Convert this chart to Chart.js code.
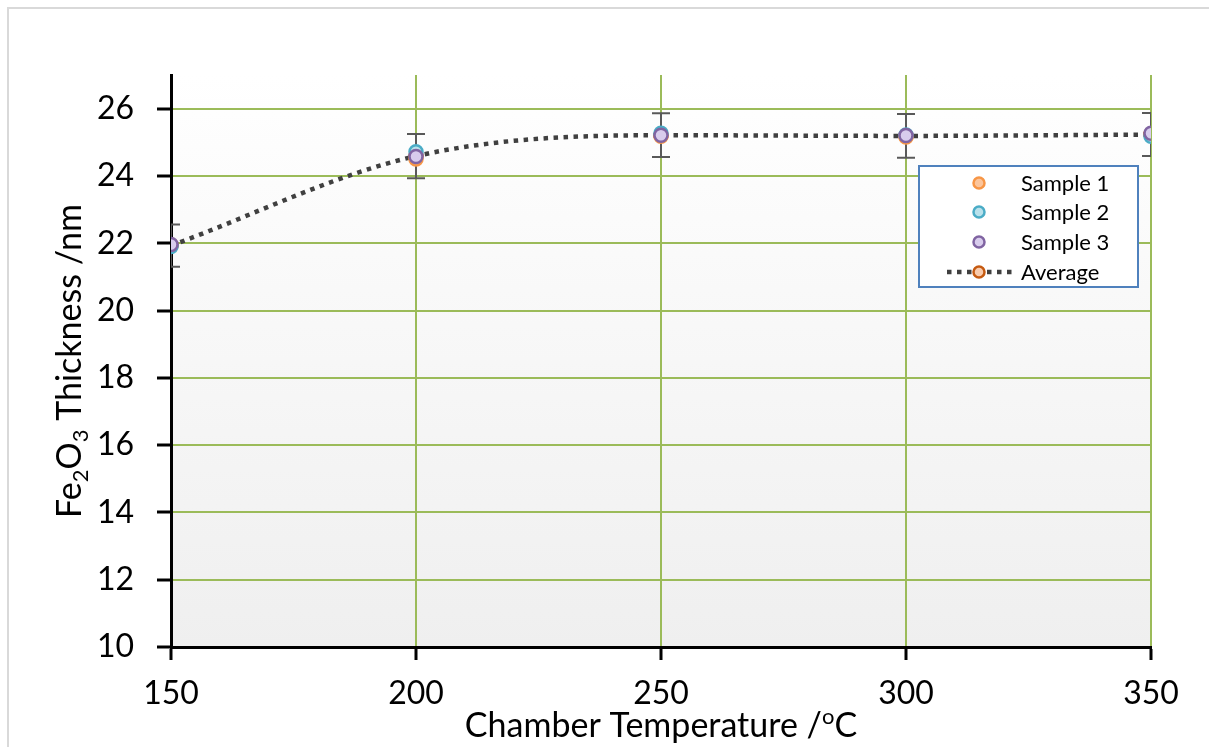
<!DOCTYPE html>
<html>
<head>
<meta charset="utf-8">
<script src="https://cdn.jsdelivr.net/npm/chart.js@4.4.1/dist/chart.umd.min.js"></script>
<style>
  html, body { margin: 0; padding: 0; background: #ffffff; }
  #wrap { position: relative; width: 1209px; height: 747px; }
</style>
</head>
<body>
<div id="wrap"><canvas id="chart"></canvas></div>
<script>
// Chamber temperature (°C) for each deposition run
const temperatures = [150, 200, 250, 300, 350];

// Measured Fe2O3 film thickness (nm) for each sample
const sample1 = [21.95, 24.50, 25.18, 25.16, 25.24];
const sample2 = [21.90, 24.72, 25.27, 25.22, 25.18];
const sample3 = [21.96, 24.58, 25.21, 25.20, 25.27];
const average = [21.93, 24.59, 25.21, 25.19, 25.23];
const averageError = [0.63, 0.66, 0.65, 0.65, 0.64];

// Axis tick labels
const xTickValues = [150, 200, 250, 300, 350];
const yTickValues = [10, 12, 14, 16, 18, 20, 22, 24, 26];

const FONT = 'Lato, "Open Sans", sans-serif';

const seriesStyles = [
  { label: 'Sample 1', data: sample1, border: '#f79646', fill: '#fbc59c' },
  { label: 'Sample 2', data: sample2, border: '#4bacc6', fill: '#b9e1eb' },
  { label: 'Sample 3', data: sample3, border: '#8064a2', fill: '#d8ccec' }
];

const toPoints = arr => arr.map((v, i) => ({ x: temperatures[i], y: v }));

const datasets = seriesStyles.map((s, i) => ({
  label: s.label,
  data: toPoints(s.data),
  showLine: false,
  pointRadius: 6.5,
  pointBorderWidth: 2.5,
  pointBorderColor: s.border,
  pointBackgroundColor: s.fill,
  order: 2 - i
}));
datasets.push({
  label: 'Average',
  data: toPoints(average),
  showLine: true,
  borderColor: '#404040',
  borderWidth: 4.5,
  borderDash: [4.5, 5.5],
  cubicInterpolationMode: 'monotone',
  pointRadius: 6.5,
  pointBorderWidth: 2.5,
  pointBorderColor: '#c55a11',
  pointBackgroundColor: '#f8cbad',
  order: 3
});

// Plot-area gradient and outer frame
const backgroundPlugin = {
  id: 'plotBackground',
  beforeDraw(chart) {
    const { ctx, chartArea: a } = chart;
    ctx.save();
    ctx.fillStyle = '#ffffff';
    ctx.fillRect(0, 0, chart.width, chart.height);
    const g = ctx.createLinearGradient(0, a.top, 0, a.bottom);
    g.addColorStop(0, '#ffffff');
    g.addColorStop(1, '#efefef');
    ctx.fillStyle = g;
    ctx.fillRect(a.left, a.top, a.right - a.left, a.bottom - a.top);
    ctx.strokeStyle = '#d9d9d9';
    ctx.lineWidth = 2;
    ctx.beginPath();
    ctx.moveTo(8, chart.height);
    ctx.lineTo(8, 8);
    ctx.lineTo(chart.width, 8);
    ctx.stroke();
    ctx.restore();
  }
};

// Vertical error bars on the average series
const errorBarPlugin = {
  id: 'errorBars',
  beforeDatasetsDraw(chart) {
    const { ctx, chartArea: a, scales: { x, y } } = chart;
    ctx.save();
    ctx.beginPath();
    ctx.rect(a.left, a.top, a.right - a.left, a.bottom - a.top);
    ctx.clip();
    ctx.strokeStyle = '#595959';
    ctx.lineWidth = 2;
    const half = 9;
    average.forEach((v, i) => {
      const px = x.getPixelForValue(temperatures[i]);
      const top = y.getPixelForValue(v + averageError[i]);
      const bot = y.getPixelForValue(v - averageError[i]);
      ctx.beginPath();
      ctx.moveTo(px, top); ctx.lineTo(px, bot);
      ctx.moveTo(px - half, top); ctx.lineTo(px + half, top);
      ctx.moveTo(px - half, bot); ctx.lineTo(px + half, bot);
      ctx.stroke();
    });
    ctx.restore();
  }
};

function drawRuns(ctx, runs, size, cx, baseline) {
  const subSize = Math.round(size * 0.65);
  const widths = runs.map(r => {
    ctx.font = `${r.sub || r.sup ? subSize : size}px ${FONT}`;
    return ctx.measureText(r.t).width;
  });
  const total = widths.reduce((s, w) => s + w, 0);
  let xPos = cx - total / 2;
  ctx.textAlign = 'left';
  ctx.textBaseline = 'alphabetic';
  runs.forEach((r, i) => {
    ctx.font = `${r.sub || r.sup ? subSize : size}px ${FONT}`;
    let dy = 0;
    if (r.sub) dy = size * 0.22;
    if (r.sup) dy = -size * 0.38;
    ctx.fillText(r.t, xPos, baseline + dy);
    xPos += widths[i];
  });
}

// Axis titles with sub/superscripts
const titlePlugin = {
  id: 'axisTitles',
  afterDraw(chart) {
    const { ctx, chartArea: a } = chart;
    ctx.save();
    ctx.fillStyle = '#000000';
    drawRuns(ctx, [
      { t: 'Chamber Temperature /' }, { t: 'o', sup: true }, { t: 'C' }
    ], 34, (a.left + a.right) / 2, 737);
    ctx.translate(81, (a.top + a.bottom) / 2);
    ctx.rotate(-Math.PI / 2);
    drawRuns(ctx, [
      { t: 'Fe' }, { t: '2', sub: true }, { t: 'O' }, { t: '3', sub: true },
      { t: ' Thickness /nm' }
    ], 34, 0, 0);
    ctx.restore();
  }
};

// Boxed legend inside the plot area
const legendPlugin = {
  id: 'boxLegend',
  afterDraw(chart) {
    const { ctx } = chart;
    const box = { x: 919, y: 166, w: 219, h: 121 };
    ctx.save();
    ctx.fillStyle = '#ffffff';
    ctx.fillRect(box.x, box.y, box.w, box.h);
    ctx.strokeStyle = '#4f81bd';
    ctx.lineWidth = 2;
    ctx.strokeRect(box.x, box.y, box.w, box.h);
    const rowY = [183, 212, 242, 272];
    const markerX = 979;
    const textX = 1021;
    chart.data.datasets.forEach((ds, i) => {
      const yRow = rowY[i];
      if (ds.showLine) {
        ctx.strokeStyle = ds.borderColor;
        ctx.lineWidth = ds.borderWidth;
        ctx.setLineDash(ds.borderDash);
        ctx.beginPath();
        ctx.moveTo(947, yRow); ctx.lineTo(1012, yRow);
        ctx.stroke();
        ctx.setLineDash([]);
      }
      ctx.beginPath();
      ctx.arc(markerX, yRow, 5.5, 0, Math.PI * 2);
      ctx.fillStyle = ds.pointBackgroundColor;
      ctx.fill();
      ctx.lineWidth = 2.5;
      ctx.strokeStyle = ds.pointBorderColor;
      ctx.stroke();
      ctx.fillStyle = '#000000';
      ctx.font = `22px ${FONT}`;
      ctx.textAlign = 'left';
      ctx.textBaseline = 'middle';
      ctx.fillText(ds.label, textX, yRow + 1);
    });
    ctx.restore();
  }
};

new Chart(document.getElementById('chart'), {
  type: 'line',
  data: { datasets },
  options: {
    responsive: true,
    maintainAspectRatio: false,
    animation: false,
    layout: { padding: { top: 75, right: 58, left: 0, bottom: 0 } },
    plugins: {
      legend: { display: false },
      tooltip: { enabled: false },
      title: { display: false }
    },
    scales: {
      x: {
        type: 'linear',
        min: 150,
        max: 350,
        afterBuildTicks(scale) { scale.ticks = xTickValues.map(v => ({ value: v })); },
        afterFit(scale) { scale.height = 100; },
        ticks: {
          color: '#000000',
          font: { family: FONT, size: 32 },
          padding: 14,
          maxRotation: 0
        },
        grid: {
          color: ctx => (ctx.tick && ctx.tick.value === 150 ? 'rgba(0,0,0,0)' : '#9bbb59'),
          lineWidth: 2,
          tickColor: '#000000',
          tickWidth: 3,
          tickLength: 13
        },
        border: { display: true, color: '#000000', width: 3 }
      },
      y: {
        type: 'linear',
        min: 10,
        max: 27,
        afterBuildTicks(scale) { scale.ticks = yTickValues.map(v => ({ value: v })); },
        afterFit(scale) { scale.width = 171; },
        ticks: {
          color: '#000000',
          font: { family: FONT, size: 32 },
          padding: 23
        },
        grid: {
          color: ctx => (ctx.tick && ctx.tick.value === 10 ? 'rgba(0,0,0,0)' : '#9bbb59'),
          lineWidth: 2,
          tickColor: '#000000',
          tickWidth: 3,
          tickLength: 14
        },
        border: { display: true, color: '#000000', width: 3 }
      }
    }
  },
  plugins: [backgroundPlugin, errorBarPlugin, titlePlugin, legendPlugin]
});
</script>
</body>
</html>
